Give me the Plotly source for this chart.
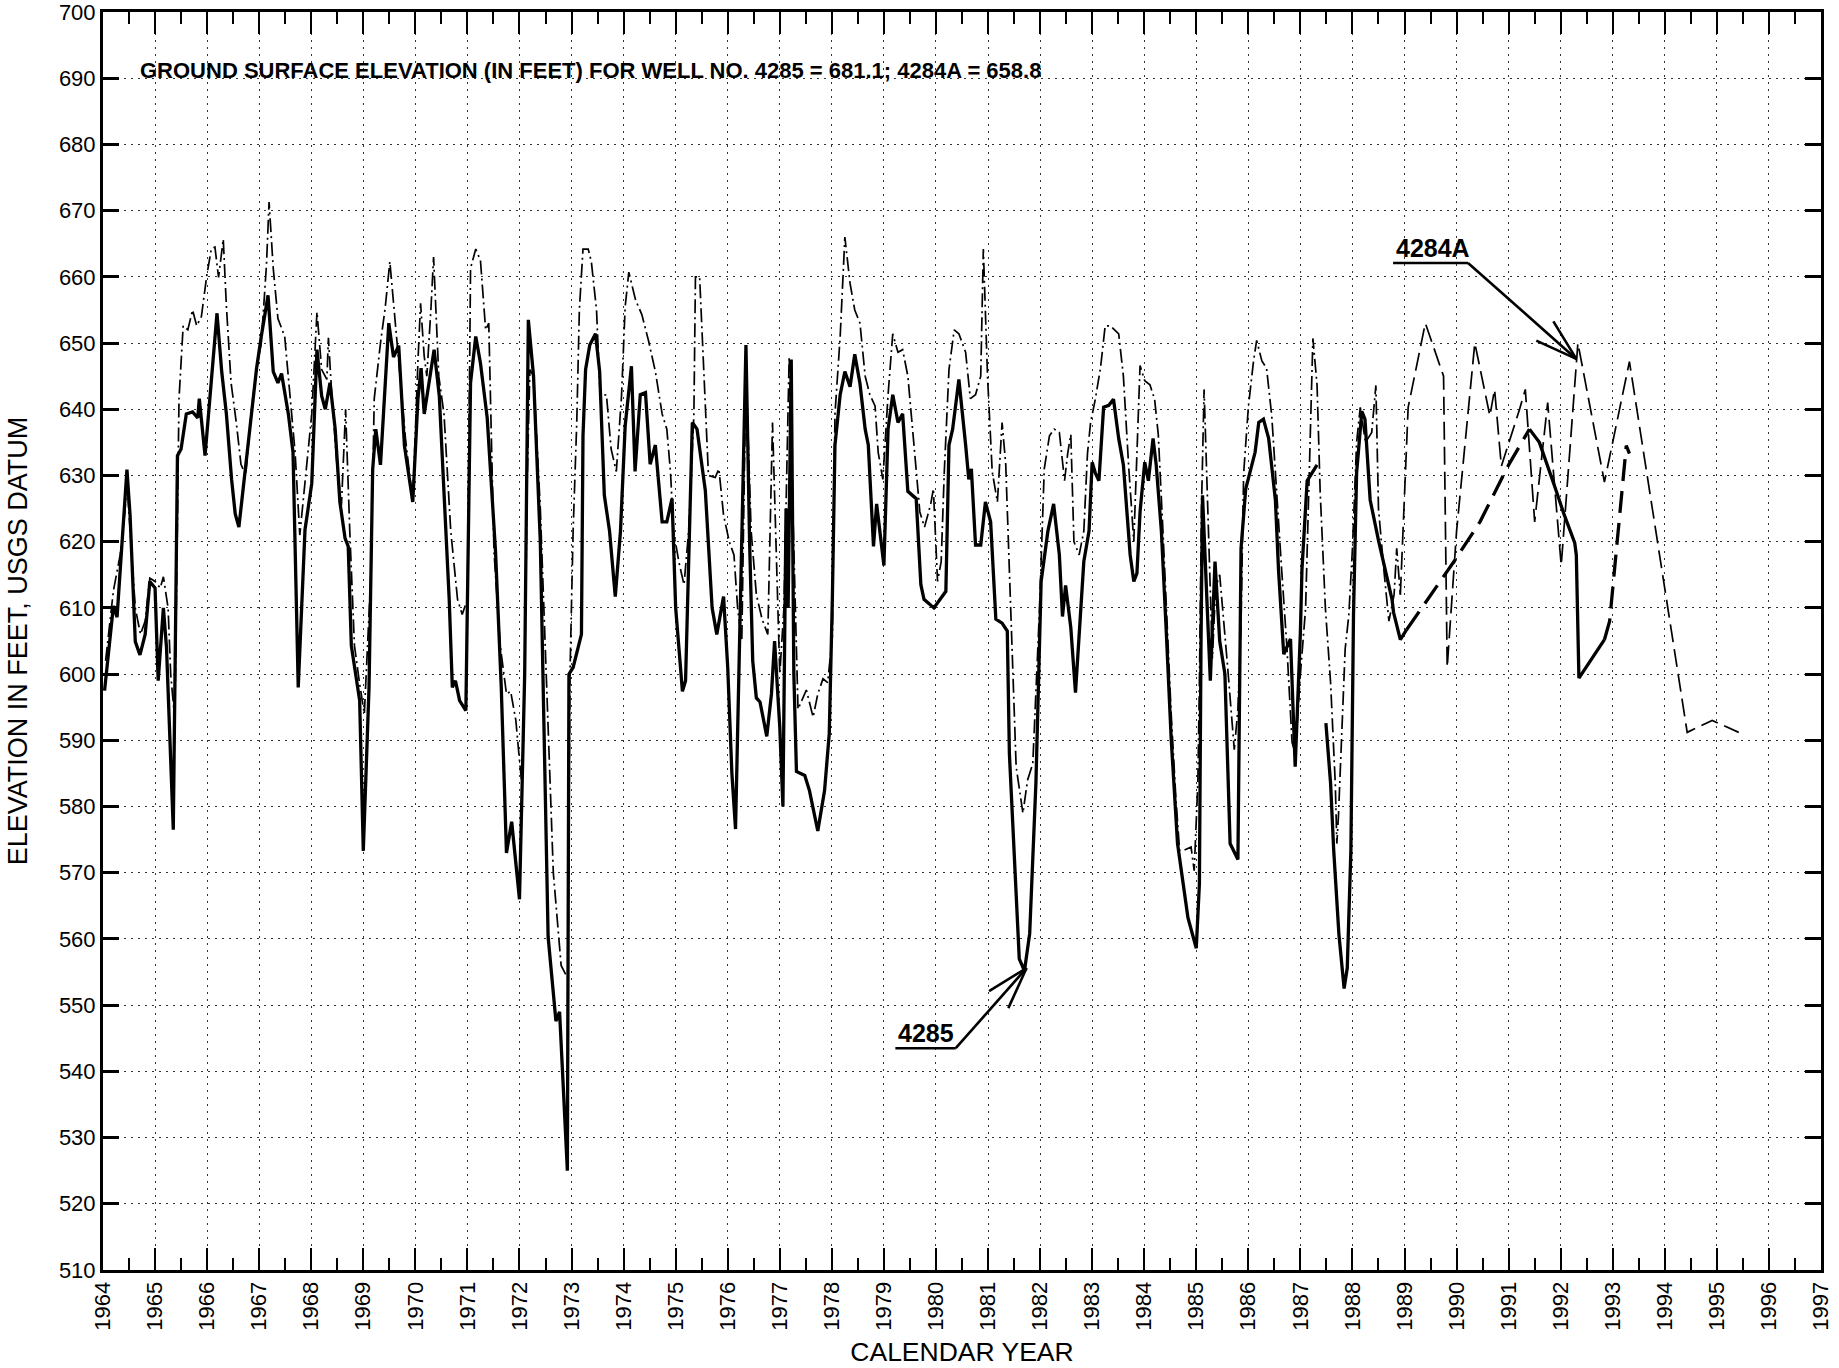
import math
import plotly.graph_objects as go

# ---------------- data (decimal year, elevation ft) ----------------
year_4285 = [1964.03, 1964.20, 1964.27, 1964.36, 1964.46, 1964.52, 1964.62, 1964.71, 1964.81, 1964.90,
             1965.00, 1965.06, 1965.16, 1965.22, 1965.28, 1965.35, 1965.43, 1965.50, 1965.60, 1965.72,
             1965.82, 1965.85, 1965.96, 1966.06, 1966.19, 1966.28, 1966.37, 1966.47, 1966.54, 1966.61,
             1966.72, 1966.85, 1966.95, 1967.04, 1967.17, 1967.27, 1967.36, 1967.43, 1967.56, 1967.65,
             1967.75, 1967.88, 1968.01, 1968.11, 1968.20, 1968.27, 1968.36, 1968.46, 1968.55, 1968.65,
             1968.71, 1968.77, 1968.93, 1969.00, 1969.11, 1969.18, 1969.24, 1969.33, 1969.49, 1969.58,
             1969.68, 1969.79, 1969.95, 1970.05, 1970.11, 1970.17, 1970.27, 1970.36, 1970.46, 1970.55,
             1970.65, 1970.71, 1970.77, 1970.85, 1970.97, 1971.06, 1971.16, 1971.25, 1971.38, 1971.54,
             1971.65, 1971.75, 1971.85, 1972.00, 1972.10, 1972.17, 1972.27, 1972.40, 1972.47, 1972.55,
             1972.70, 1972.77, 1972.92, 1972.95, 1973.03, 1973.13, 1973.19, 1973.22, 1973.27, 1973.35,
             1973.46, 1973.54, 1973.63, 1973.73, 1973.84, 1973.94, 1974.03, 1974.15, 1974.22, 1974.32,
             1974.42, 1974.51, 1974.61, 1974.74, 1974.83, 1974.93, 1975.00, 1975.13, 1975.19, 1975.32,
             1975.41, 1975.57, 1975.70, 1975.79, 1975.92, 1976.00, 1976.08, 1976.15, 1976.21, 1976.30,
             1976.35, 1976.42, 1976.48, 1976.55, 1976.62, 1976.75, 1976.84, 1976.90, 1977.00, 1977.06,
             1977.12, 1977.16, 1977.22, 1977.27, 1977.32, 1977.48, 1977.57, 1977.73, 1977.80, 1977.86,
             1977.95, 1978.01, 1978.06, 1978.16, 1978.25, 1978.35, 1978.44, 1978.54, 1978.64, 1978.70,
             1978.80, 1978.86, 1979.00, 1979.08, 1979.17, 1979.27, 1979.36, 1979.46, 1979.62, 1979.71,
             1979.77, 1979.96, 1980.19, 1980.25, 1980.32, 1980.44, 1980.57, 1980.63, 1980.68, 1980.76,
             1980.86, 1980.95, 1981.05, 1981.15, 1981.27, 1981.37, 1981.41, 1981.60, 1981.70, 1981.80,
             1981.92, 1982.02, 1982.15, 1982.26, 1982.37, 1982.43, 1982.49, 1982.59, 1982.68, 1982.78,
             1982.84, 1982.94, 1983.00, 1983.06, 1983.13, 1983.22, 1983.32, 1983.41, 1983.51, 1983.60,
             1983.73, 1983.80, 1983.86, 1983.92, 1984.01, 1984.08, 1984.17, 1984.23, 1984.33, 1984.42,
             1984.52, 1984.64, 1984.84, 1985.00, 1985.06, 1985.09, 1985.12, 1985.20, 1985.27, 1985.36,
             1985.45, 1985.55, 1985.65, 1985.80, 1985.86, 1985.95, 1986.13, 1986.20, 1986.29, 1986.39,
             1986.52, 1986.58, 1986.68, 1986.81, 1986.90, 1987.00, 1987.03, 1987.13, 1987.22, 1987.32,
             None,
             1987.49, 1987.58, 1987.64, 1987.74, 1987.84, 1987.90, 1987.97, 1988.02, 1988.08, 1988.18,
             1988.24, 1988.34, 1988.50, 1988.57, 1988.76, 1988.79, 1988.92, 1989.04,
             None,
             1991.40, 1991.59, 1991.90, 1992.07, 1992.27, 1992.30, 1992.35, 1992.84]
elev_4285 = [597.5, 610.3, 608.6, 618.7, 630.9, 624.0, 604.9, 602.9, 606.0, 614.0,
             613.0, 599.0, 610.0, 604.0, 590.0, 576.5, 633.0, 634.0, 639.3, 639.6,
             638.7, 641.6, 633.0, 642.8, 654.5, 645.7, 639.3, 629.4, 624.2, 622.2,
             630.0, 640.0, 646.2, 651.0, 657.2, 645.7, 644.0, 645.4, 639.3, 633.5,
             598.0, 621.8, 628.8, 649.0, 642.0, 640.0, 644.0, 637.0, 626.0, 620.5,
             619.3, 604.3, 596.0, 573.3, 598.0, 630.9, 637.0, 631.6, 653.0, 647.9,
             649.6, 634.5, 626.0, 641.6, 646.2, 639.3, 644.5, 649.0, 642.0, 627.6,
             611.3, 598.0, 599.0, 596.0, 594.5, 644.0, 651.0, 647.0, 638.7, 618.5,
             598.0, 573.0, 577.7, 566.0, 600.0, 653.5, 645.0, 620.0, 590.0, 560.3,
             547.6, 549.0, 525.0, 600.0, 601.0, 604.3, 606.0, 636.0, 646.0, 649.7,
             651.4, 645.7, 627.0, 621.6, 611.7, 621.6, 637.5, 646.5, 630.6, 642.2,
             642.5, 631.7, 634.6, 623.0, 623.0, 626.5, 610.0, 597.4, 599.0, 638.0,
             637.0, 627.7, 610.0, 606.0, 611.7, 601.0, 585.0, 576.6, 600.0, 630.0,
             649.7, 620.0, 602.0, 596.4, 595.8, 590.6, 597.0, 605.0, 592.0, 580.0,
             625.0, 610.0, 647.5, 600.0, 585.3, 584.7, 582.4, 576.3, 579.5, 582.4,
             591.0, 611.5, 634.6, 642.2, 645.7, 643.4, 648.3, 643.9, 637.0, 634.6,
             619.3, 625.7, 616.4, 637.0, 642.2, 638.0, 639.3, 627.6, 626.5, 613.5,
             611.3, 610.0, 612.5, 634.6, 637.0, 644.5, 634.6, 629.4, 631.0, 619.5,
             619.5, 626.0, 623.0, 608.3, 607.7, 606.5, 588.0, 557.0, 555.2, 560.8,
             583.6, 614.0, 621.6, 625.7, 618.0, 608.7, 613.4, 607.0, 597.2, 610.0,
             617.0, 621.6, 632.0, 630.4, 629.2, 640.3, 640.6, 641.5, 635.6, 631.6,
             618.0, 614.0, 615.2, 624.5, 632.0, 629.2, 635.6, 631.6, 621.6, 607.0,
             590.0, 574.4, 563.2, 558.6, 568.3, 603.8, 627.0, 612.0, 599.0, 617.0,
             605.0, 600.0, 574.4, 572.0, 619.0, 628.0, 633.5, 638.0, 638.5, 635.6,
             626.3, 615.7, 603.0, 605.3, 586.0, 606.3, 615.8, 629.2, 630.4, 631.6,
             None,
             592.6, 583.5, 573.4, 560.7, 552.5, 555.6, 573.4, 609.0, 630.4, 639.7,
             638.5, 626.3, 620.2, 617.8, 611.3, 609.3, 605.2, 606.7,
             None,
             637.0, 635.0, 628.0, 624.0, 619.8, 618.0, 599.4, 605.2]

# sparse (dashed) part of well 4285
year_4285_sparse = [1989.04, 1989.22, 1989.78, 1989.95, 1990.45, 1991.00, 1991.40,
                    None, 1992.84, 1992.94, 1993.26, 1993.32]
elev_4285_sparse = [606.7, 608.7, 615.1, 617.0, 623.0, 631.6, 637.0,
                    None, 605.2, 608.0, 634.5, 633.3]

year_4284a = [1964.05, 1964.20, 1964.33, 1964.42, 1964.46, 1964.52, 1964.62, 1964.72, 1964.81, 1964.90,
              1965.00, 1965.10, 1965.16, 1965.25, 1965.30, 1965.38, 1965.46, 1965.54, 1965.63, 1965.72,
              1965.80, 1965.89, 1965.99, 1966.08, 1966.15, 1966.22, 1966.31, 1966.37, 1966.46, 1966.56,
              1966.65, 1966.74, 1966.86, 1966.95, 1967.04, 1967.14, 1967.19, 1967.27, 1967.36, 1967.49,
              1967.59, 1967.69, 1967.78, 1967.88, 1968.01, 1968.11, 1968.20, 1968.30, 1968.33, 1968.39,
              1968.49, 1968.58, 1968.66, 1968.74, 1968.83, 1968.93, 1969.02, 1969.15, 1969.21, 1969.33,
              1969.42, 1969.51, 1969.58, 1969.68, 1969.81, 1969.95, 1970.05, 1970.10, 1970.17, 1970.22,
              1970.30, 1970.35, 1970.45, 1970.55, 1970.68, 1970.81, 1970.90, 1971.00, 1971.06, 1971.16,
              1971.25, 1971.35, 1971.41, 1971.51, 1971.63, 1971.75, 1971.83, 1971.93, 1972.00, 1972.05,
              1972.10, 1972.15, 1972.20, 1972.27, 1972.40, 1972.55, 1972.65, 1972.80, 1972.87, 1972.93,
              1972.97, 1973.03, 1973.10, 1973.15, 1973.22, 1973.32, 1973.38, 1973.48, 1973.55, 1973.67,
              1973.76, 1973.86, 1973.96, 1974.03, 1974.10, 1974.23, 1974.35, 1974.48, 1974.61, 1974.74,
              1974.83, 1974.90, 1974.96, 1975.06, 1975.16, 1975.25, 1975.35, 1975.38, 1975.46, 1975.54,
              1975.63, 1975.76, 1975.83, 1975.92, 1976.03, 1976.12, 1976.19, 1976.27, 1976.31, 1976.35,
              1976.45, 1976.55, 1976.66, 1976.77, 1976.86, 1976.92, 1977.00, 1977.08, 1977.18, 1977.25,
              1977.35, 1977.51, 1977.64, 1977.73, 1977.83, 1977.92, 1978.01, 1978.06, 1978.16, 1978.25,
              1978.35, 1978.44, 1978.54, 1978.64, 1978.73, 1978.83, 1978.89, 1978.98, 1979.08, 1979.17,
              1979.27, 1979.36, 1979.46, 1979.59, 1979.69, 1979.78, 1979.90, 1979.95, 1980.03, 1980.10,
              1980.16, 1980.25, 1980.35, 1980.44, 1980.57, 1980.66, 1980.76, 1980.86, 1980.91, 1980.99,
              1981.08, 1981.18, 1981.27, 1981.34, 1981.43, 1981.54, 1981.67, 1981.76, 1981.86, 1981.99,
              1982.08, 1982.18, 1982.27, 1982.37, 1982.47, 1982.53, 1982.59, 1982.65, 1982.75, 1982.84,
              1982.91, 1982.97, 1983.06, 1983.16, 1983.25, 1983.35, 1983.51, 1983.60, 1983.70, 1983.80,
              1983.86, 1983.92, 1984.01, 1984.11, 1984.20, 1984.27, 1984.36, 1984.46, 1984.52, 1984.61,
              1984.68, 1984.77, 1984.90, 1984.96, 1985.03, 1985.06, 1985.10, 1985.15, 1985.25, 1985.31,
              1985.37, 1985.45, 1985.60, 1985.67, 1985.73, 1985.80, 1985.86, 1985.91, 1986.00, 1986.10,
              1986.16, 1986.26, 1986.35, 1986.45, 1986.54, 1986.64, 1986.74, 1986.84, 1986.90, 1987.00,
              1987.10, 1987.16, 1987.24, 1987.32, 1987.38, 1987.48, 1987.58, 1987.67, 1987.70, 1987.73,
              1987.80, 1987.86, 1987.93, 1988.00, 1988.08, 1988.15, 1988.25, 1988.37, 1988.45, 1988.50,
              1988.60, 1988.70, 1988.80, 1988.85, 1988.92]
elev_4284a = [602.0, 612.6, 618.0, 624.5, 629.0, 622.0, 610.0, 606.0, 608.0, 614.5,
              614.0, 613.0, 614.7, 610.0, 600.0, 593.0, 641.6, 652.6, 652.0, 655.0,
              652.6, 654.0, 660.0, 664.2, 664.5, 659.9, 665.7, 655.6, 644.0, 638.0,
              631.7, 630.0, 640.5, 646.0, 650.0, 661.8, 671.3, 661.3, 653.7, 651.0,
              642.8, 633.5, 621.0, 628.8, 639.3, 654.7, 646.0, 644.5, 650.8, 642.8,
              632.0, 625.5, 640.0, 621.6, 604.3, 598.5, 594.0, 615.8, 641.6, 650.0,
              655.3, 662.3, 656.5, 647.3, 635.6, 626.0, 647.3, 656.0, 648.0, 645.0,
              655.3, 663.0, 645.0, 639.3, 621.6, 611.3, 609.0, 611.3, 661.3, 664.2,
              662.5, 652.0, 653.0, 618.5, 604.3, 597.0, 597.4, 593.0, 587.0, 583.0,
              600.0, 630.0, 646.0, 645.0, 625.0, 590.0, 570.0, 556.0, 555.0, 554.0,
              600.0, 621.6, 638.0, 655.0, 664.2, 664.2, 662.3, 655.0, 642.0, 642.2,
              634.0, 630.6, 642.0, 655.5, 660.7, 656.5, 654.3, 650.3, 645.7, 639.3,
              637.0, 630.6, 621.6, 617.0, 613.5, 621.6, 639.3, 660.0, 660.0, 646.0,
              630.0, 629.7, 631.0, 624.0, 620.0, 618.0, 610.0, 605.0, 628.0, 646.0,
              621.6, 612.0, 608.3, 606.0, 638.0, 620.0, 600.0, 610.0, 648.0, 625.0,
              594.7, 597.6, 593.5, 597.0, 599.3, 598.7, 605.7, 639.3, 651.0, 666.0,
              659.0, 655.0, 653.0, 645.0, 642.2, 640.5, 633.5, 629.4, 642.2, 651.4,
              648.6, 649.0, 645.0, 633.5, 624.5, 622.2, 625.7, 628.0, 614.0, 617.0,
              630.6, 646.0, 652.0, 651.4, 648.6, 641.6, 642.2, 645.0, 664.2, 645.0,
              630.6, 626.0, 638.0, 631.7, 610.0, 586.0, 579.0, 584.0, 586.5, 610.0,
              631.0, 636.0, 637.0, 636.5, 629.2, 633.3, 636.2, 620.0, 618.0, 621.6,
              633.3, 638.0, 641.5, 646.2, 652.6, 652.6, 651.4, 645.0, 631.6, 620.0,
              633.3, 646.6, 644.3, 643.7, 641.5, 636.2, 621.6, 604.3, 593.7, 581.0,
              573.4, 573.4, 573.9, 570.3, 583.5, 598.7, 625.0, 643.0, 615.8, 602.4,
              613.0, 615.0, 601.3, 594.7, 588.6, 594.7, 608.0, 630.3, 640.3, 647.3,
              650.4, 647.3, 646.2, 639.0, 627.5, 615.8, 604.2, 589.7, 588.0, 600.0,
              609.9, 629.2, 650.7, 643.7, 627.5, 610.0, 598.7, 583.5, 574.4, 578.4,
              591.0, 603.8, 608.9, 619.0, 635.0, 640.3, 635.0, 636.5, 643.6, 625.0,
              616.0, 608.0, 612.0, 619.0, 612.0]

# sparse (dashed) part of well 4284A
year_4284a_sparse = [1988.92, 1989.07, 1989.40, 1989.60, 1989.75, 1989.82, 1990.00, 1990.35, 1990.64,
                     1990.73, 1990.86, 1991.21, 1991.32, 1991.50, 1991.75, 1992.01, 1992.33, 1992.84,
                     1993.32, 1994.43, 1994.91, 1995.42]
elev_4284a_sparse = [612.0, 640.3, 653.0, 648.4, 645.0, 601.0, 621.6, 650.0, 639.0,
                     643.0, 631.4, 640.0, 643.0, 623.0, 641.0, 616.4, 650.0, 629.0,
                     647.2, 591.2, 593.0, 591.2]

x_ticks = list(range(1964, 1998))
y_ticks = list(range(510, 701, 10))

FONT = "Liberation Sans, Arial, sans-serif"

# plot geometry (used only to shape the annotation arrowheads)
X_RANGE = [1964, 1997]
Y_RANGE = [510, 700]
W, H = 1839, 1368
M = dict(l=103, r=18, t=12, b=98)
PX_PER_X = (W - M["l"] - M["r"]) / (X_RANGE[1] - X_RANGE[0])
PX_PER_Y = (H - M["t"] - M["b"]) / (Y_RANGE[1] - Y_RANGE[0])

fig = go.Figure()
fig.add_trace(go.Scatter(x=year_4284a, y=elev_4284a, mode="lines", name="4284A",
                         line=dict(color="black", width=1.7, dash="14px,4px,2px,4px")))
fig.add_trace(go.Scatter(x=year_4284a_sparse, y=elev_4284a_sparse, mode="lines", name="4284A est.",
                         line=dict(color="black", width=1.7, dash="18px,7px")))
fig.add_trace(go.Scatter(x=year_4285, y=elev_4285, mode="lines", name="4285",
                         line=dict(color="black", width=3.3)))
fig.add_trace(go.Scatter(x=year_4285_sparse, y=elev_4285_sparse, mode="lines", name="4285 est.",
                         line=dict(color="black", width=3.3, dash="22px,10px")))

fig.update_layout(
    width=W, height=H,
    margin=dict(l=M["l"], r=M["r"], t=M["t"], b=M["b"], autoexpand=False),
    paper_bgcolor="white", plot_bgcolor="white",
    showlegend=False,
    font=dict(family=FONT, color="black"),
)
fig.update_xaxes(
    range=X_RANGE, tickvals=x_ticks, ticktext=[str(v) for v in x_ticks],
    tickangle=-90, tickfont=dict(size=22, family=FONT, color="black"),
    ticks="inside", ticklen=22, tickwidth=2, tickcolor="black",
    minor=dict(dtick=0.5, tick0=1964, ticks="inside", ticklen=12, tickwidth=2, tickcolor="black", showgrid=False),
    showline=True, linewidth=3, linecolor="black", mirror="ticks",
    showgrid=True, gridcolor="#333333", gridwidth=1, griddash="2px,5px",
    zeroline=False, automargin=False, ticklabeloverflow="allow",
    title=dict(text="CALENDAR YEAR", font=dict(size=26.5, family=FONT, color="black"), standoff=13),
)
fig.update_yaxes(
    range=Y_RANGE, tickvals=y_ticks, ticktext=[str(v) for v in y_ticks],
    tickfont=dict(size=22, family=FONT, color="black"),
    ticks="inside", ticklen=16, tickwidth=2.5, tickcolor="black",
    showline=True, linewidth=3, linecolor="black", mirror="ticks",
    showgrid=True, gridcolor="#333333", gridwidth=1, griddash="2px,5px",
    zeroline=False, automargin=False, ticklabeloverflow="allow",
    title=dict(text="ELEVATION IN FEET, USGS DATUM", font=dict(size=27, family=FONT, color="black"), standoff=24),
)

# header note
fig.add_annotation(x=1964.68, y=691.2, xref="x", yref="y", xanchor="left", yanchor="middle",
                   text="<b>GROUND SURFACE ELEVATION (IN FEET) FOR WELL NO. 4285 = 681.1; 4284A = 658.8</b>",
                   showarrow=False, font=dict(size=22, family=FONT, color="black"))

# well labels with underline, shaft and open V arrowhead
labels = [
    dict(text="4285", x0=1979.22, x1=1980.38, y_text=545.8, y_line=543.5, tip=(1981.74, 555.6)),
    dict(text="4284A", x0=1988.78, x1=1990.22, y_text=664.4, y_line=662.1, tip=(1992.30, 647.6)),
]
BARB_LEN = 44.0   # px
BARB_ANG = 17.0   # degrees
for lab in labels:
    fig.add_annotation(x=lab["x0"] + 0.02, y=lab["y_text"], xref="x", yref="y", xanchor="left",
                       yanchor="middle", text="<b>" + lab["text"] + "</b>", showarrow=False,
                       font=dict(size=25, family=FONT, color="black"))
    line_style = dict(color="black", width=2.6)
    fig.add_shape(type="line", xref="x", yref="y", x0=lab["x0"], x1=lab["x1"],
                  y0=lab["y_line"], y1=lab["y_line"], line=line_style)
    tx, ty = lab["tip"]
    fig.add_shape(type="line", xref="x", yref="y", x0=lab["x1"], y0=lab["y_line"], x1=tx, y1=ty,
                  line=line_style)
    # direction from tip back to tail in screen pixels
    dxp = (lab["x1"] - tx) * PX_PER_X
    dyp = -(lab["y_line"] - ty) * PX_PER_Y
    base = math.atan2(dyp, dxp)
    for sgn in (-1, 1):
        a = base + sgn * math.radians(BARB_ANG)
        bx = BARB_LEN * math.cos(a)
        by = BARB_LEN * math.sin(a)
        fig.add_shape(type="line", xref="x", yref="y", x0=tx, y0=ty,
                      x1=tx + bx / PX_PER_X, y1=ty - by / PX_PER_Y, line=line_style)

fig.write_html("out.html", config={"displayModeBar": False},
               post_script="document.body.style.margin='0';")
